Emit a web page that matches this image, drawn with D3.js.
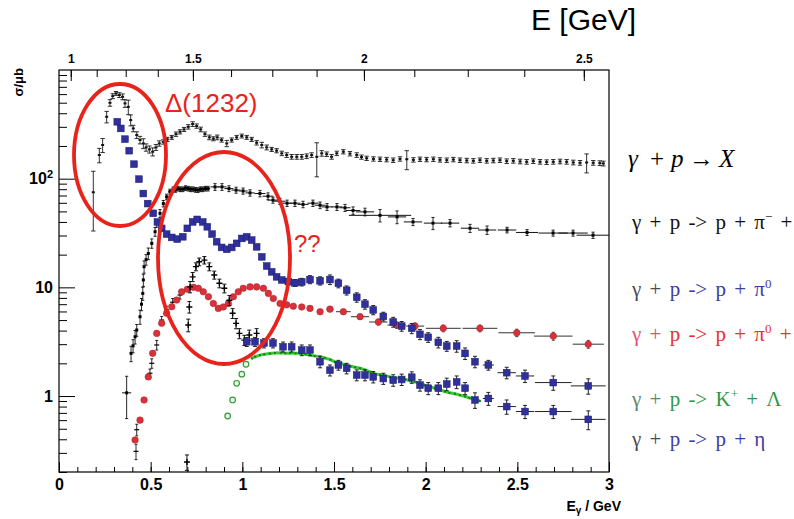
<!DOCTYPE html>
<html>
<head>
<meta charset="utf-8">
<script src="https://cdn.jsdelivr.net/npm/d3@7/dist/d3.min.js"></script>
<style>
  html,body{margin:0;padding:0;background:#fff;}
  svg{display:block;}
  .tick text{font-family:"Liberation Sans",Arial,Helvetica,sans-serif;font-weight:bold;fill:#000;}
</style>
</head>
<body>
<svg id="chart" width="794" height="519"></svg>
<script>
// ---------------- data (E_gamma in GeV, sigma in microbarn) ----------------
// total photoabsorption  [E, sigma, error]
const totalXS = [
  [0.187,75,42],[0.220,165,25],[0.238,204,30],[0.260,371,45],[0.278,499,35],[0.293,575,30],
  [0.311,609,25],[0.329,588,30],[0.347,567,35],[0.360,493,40],[0.378,458,70],[0.391,346,40],
  [0.405,290,20],[0.424,252,18],[0.442,227,18],[0.460,211,22],[0.475,194,15],[0.493,186,14],
  [0.511,177,15],[0.529,194,12],[0.547,211,12],[0.569,218,10],[0.591,230,10],[0.615,240,10],
  [0.638,257,12],[0.660,270,12],[0.682,284,12],[0.705,300,14],[0.729,318,16],[0.751,305,14],
  [0.773,284,14],[0.796,257,12],[0.820,240,12],[0.842,233,10],[0.863,240,12],[0.887,227,10],
  [0.915,211,14],[0.942,227,10],[0.969,240,10],[0.997,247,10],[1.024,240,10],[1.051,230,10],
  [1.078,214,10],[1.106,204,12],[1.133,194,10],[1.160,186,8],[1.187,181,8],[1.215,171,8],
  [1.242,165,8],[1.269,159,8],[1.297,159,8],[1.324,159,8],[1.351,161,8],[1.378,165,8],
  [1.406,159,55],[1.433,171,10],[1.460,168,8],[1.487,159,8],[1.515,171,8],[1.551,177,8],
  [1.587,170,8],[1.624,165,8],[1.650,158,7],[1.678,154,7],[1.715,152,7],[1.751,151,7],
  [1.787,150,7],[1.823,148,7],[1.860,152,7],[1.897,151,30],[1.933,149,7],[1.969,151,7],
  [2.005,150,7],[2.042,151,7],[2.078,149,7],[2.115,148,7],[2.151,150,7],[2.187,148,7],
  [2.224,147,7],[2.260,146,7],[2.296,148,7],[2.333,146,7],[2.369,147,7],[2.405,148,7],
  [2.442,145,7],[2.478,146,7],[2.515,144,7],[2.551,143,7],[2.587,145,7],[2.624,143,7],
  [2.660,142,7],[2.696,143,7],[2.733,144,7],[2.769,143,7],[2.805,141,7],[2.842,140,7],
  [2.878,141,28],[2.914,140,7],[2.950,139,7],[2.969,138,7]
];

// p pi- pi+   [E, sigma, bin half-width, error]
const pipiXS = [
  [0.369,1.07,0.025,0.45],[0.393,2.47,0.006,0.4],[0.404,2.9,0.006,0.4],[0.415,3.51,0.006,0.5],
  [0.424,4.05,0.006,0.5],[0.442,5.37,0.006,0.8],[0.450,7.0,0.006,0.9],[0.457,8.8,0.006,1.2],
  [0.460,11.7,0.006,1.5],[0.464,15.5,0.006,2.0],[0.475,18.0,0.006,2.0],[0.487,20.5,0.006,2.5],
  [0.506,25.4,0.006,2.5],[0.524,32.5,0.006,3],[0.533,38.8,0.006,3],[0.551,48,0.006,4],
  [0.569,59,0.006,4],[0.587,68,0.006,4],[0.605,76,0.008,4],
  [0.623,80,0.012,4],[0.636,79,0.012,4],[0.649,81,0.012,4],[0.662,80,0.012,4],[0.676,80,0.012,4],
  [0.690,82,0.012,4],[0.704,81,0.012,4],[0.717,80,0.012,4],[0.731,80,0.012,4],[0.745,79,0.012,4],
  [0.758,78.5,0.012,4],[0.772,80,0.012,4],[0.785,80,0.012,4],[0.799,81,0.012,4],[0.813,81,0.012,4],
  [0.851,84,0.025,6],[0.889,84,0.025,6],[0.927,81,0.025,5],[0.966,78.5,0.025,5],[1.004,77,0.025,5],
  [1.042,74,0.025,5],[1.096,73,0.03,5],[1.140,69,0.03,5],[1.167,63.5,0.03,4],[1.205,62,0.03,4],
  [1.244,59.5,0.03,4],[1.287,59.5,0.03,4],[1.331,58,0.03,4],[1.385,59.5,0.03,4],[1.424,57,0.03,4],
  [1.462,55,0.03,4],[1.516,55,0.03,4],[1.560,54,0.03,4],[1.604,51,0.04,4],[1.669,49.5,0.05,4],
  [1.751,46,0.17,6],[1.844,44.5,0.05,6],[1.931,40,0.05,3],[2.040,39,0.05,5],[2.133,39,0.05,3],
  [2.242,35,0.05,3],[2.335,33.7,0.05,3],[2.444,33.7,0.05,2],[2.553,32,0.06,2],[2.695,31.6,0.08,2],
  [2.804,31.6,0.08,2],[2.913,30.2,0.09,2]
];

// p pi0   [E, sigma, error, bin half-width]
const pi0XS = [
  [0.318,334,0,0],[0.337,290,0,0],[0.360,231,0,0],[0.383,181,0,0],[0.409,136,0,0],[0.436,99,0,0],
  [0.460,73,0,0],[0.484,59,0,0],[0.514,48,0,0],[0.537,40,0,0],[0.560,34.9,0,0],[0.587,30.9,0,0],
  [0.615,28.8,0,0],[0.645,27.8,0,0],[0.675,29.2,0,0],[0.700,34.9,0,0],[0.729,40,0,0],[0.754,42.2,0,0],
  [0.784,40,0,0],[0.809,36.1,0,0],[0.835,30.9,0,0],[0.860,26.3,0,0],[0.887,23.3,0,0],[0.915,22.4,0,0],
  [0.942,23.3,0,0],[0.969,25.4,0,0],[0.997,28.2,0,0],[1.024,29.2,0,0],[1.051,27.2,0,0],[1.078,23.6,0,0],
  [1.106,19.1,0,0],[1.133,15.7,0,0],[1.160,13.9,0,0],[1.187,12.5,0,0],[1.215,11.7,0,0],
  [1.251,11.3,0.8,0],[1.287,11.0,0.8,0],[1.324,11.2,0.9,0],[1.369,11.8,1.0,0],[1.424,11.5,1.0,0],
  [1.478,11.8,1.2,0],[1.524,10.9,1.0,0],[1.569,9.4,0.9,0],[1.624,8.1,0.8,0],[1.669,7.0,0.7,0],
  [1.714,6.2,0.6,0],[1.769,5.4,0.5,0],[1.823,4.8,0.5,0],[1.869,4.4,0.45,0],[1.924,4.2,0.45,0],
  [1.969,3.7,0.4,0],[2.014,3.47,0.35,0],[2.069,3.12,0.35,0],[2.115,2.88,0.3,0],[2.169,2.88,0.35,0],
  [2.215,2.47,0.3,0],[2.269,2.07,0.25,0],[2.342,1.93,0.2,0.03],[2.442,1.64,0.2,0.05],
  [2.542,1.53,0.2,0.05],[2.696,1.33,0.2,0.1],[2.887,1.24,0.2,0.095]
];

// p pi0 pi0   [E, sigma, error, bin half-width]
const pi0pi0XS = [
  [0.415,0.394,0,0],[0.442,0.60,0,0],[0.464,0.92,0,0],[0.487,1.50,0,0],[0.511,2.47,0,0],
  [0.533,3.77,0,0],[0.560,4.67,0,0],[0.587,5.77,0,0],[0.615,6.63,0,0],[0.642,7.64,0,0],
  [0.669,9.1,0,0],[0.700,9.6,0,0],[0.733,10.0,0,0],[0.760,9.8,0,0],[0.787,9.1,0,0],
  [0.815,8.2,0,0],[0.842,7.1,0,0],[0.869,6.4,0,0],[0.896,6.6,0,0],[0.924,7.1,0,0],
  [0.951,8.2,0,0],[0.978,9.1,0,0],[1.005,9.8,0,0],[1.042,10.1,0,0],[1.078,10.1,0,0],
  [1.115,9.8,0,0],[1.142,8.8,0,0],[1.169,7.9,0,0],[1.206,7.1,0,0],[1.242,6.9,0,0],
  [1.278,6.7,0,0],[1.324,6.6,0,0],[1.369,6.4,0,0],[1.424,5.97,0,0],[1.478,6.3,0,0.02],
  [1.551,5.97,0.3,0.04],[1.642,5.37,0.3,0.05],[1.742,4.8,0.3,0.05],[1.842,4.5,0.3,0.05],
  [1.942,4.4,0.3,0.05],[2.096,4.2,0.3,0.095],[2.296,4.2,0.3,0.095],[2.497,3.82,0.3,0.1],
  [2.696,3.56,0.3,0.105],[2.887,3.0,0.25,0.085]
];

// p pi0 pi0, second data set  [E, sigma, error]
const pi0pi0Other = [
  [0.420,0.31,0.05],[0.424,0.49,0.06],[0.496,1.62,0.15],[0.506,2.0,0.2],[0.533,2.95,0.3],
  [0.560,5.0,0.4],[0.587,6.2,0.5],[0.620,7.3,0.6],[0.660,8.5,0.7]
];

// p eta near threshold  [E, sigma, error]
const etaLowXS = [
  [0.698,0.247,0.04],[0.705,4.5,0.6],[0.711,6.6,0.8],[0.715,10.1,1.2],[0.729,12.5,1.2],
  [0.747,15.5,1.3],[0.765,17.2,1.4],[0.793,17.8,1.4],[0.820,15.5,1.3],[0.847,13.0,1.1],
  [0.875,10.9,1.0],[0.902,9.8,0.9],[0.929,7.6,0.8],[0.947,5.77,0.6],[0.966,4.66,0.5],
  [0.984,3.77,0.4],[1.011,3.27,0.35],[1.038,3.64,0.4],[1.078,3.77,0.4]
];

// p eta  [E, sigma, error, bin half-width]
const etaXS = [
  [1.024,3.16,0.3,0],[1.069,3.16,0.3,0],[1.118,3.07,0.3,0],[1.167,3.07,0.3,0],[1.222,2.84,0.3,0],
  [1.269,2.84,0.3,0],[1.324,2.65,0.3,0],[1.369,2.65,0.3,0],[1.424,2.07,0.25,0],[1.478,1.73,0.2,0],
  [1.524,1.93,0.2,0],[1.569,1.80,0.2,0],[1.624,1.56,0.18,0],[1.669,1.56,0.18,0],[1.714,1.50,0.18,0],
  [1.769,1.45,0.17,0],[1.823,1.40,0.17,0],[1.869,1.42,0.17,0],[1.924,1.49,0.18,0],[1.969,1.26,0.15,0],
  [2.014,1.18,0.15,0],[2.069,1.18,0.15,0],[2.115,1.29,0.17,0],[2.169,1.35,0.18,0],[2.215,1.18,0.15,0],
  [2.269,0.92,0.15,0],[2.342,0.95,0.13,0.03],[2.442,0.80,0.12,0.05],[2.542,0.72,0.1,0.05],
  [2.696,0.72,0.1,0.1],[2.887,0.61,0.12,0.095]
];

// K+ Lambda: threshold points and measured band  [E, sigma]
const kLambdaThr = [[0.920,0.655],[0.947,0.92],[0.969,1.31],[0.997,1.59],[1.020,1.96]];
const kLambdaXS = [
  [1.051,2.22],[1.070,2.30],[1.096,2.38],[1.120,2.42],[1.150,2.46],[1.178,2.49],[1.210,2.50],
  [1.235,2.48],[1.260,2.49],[1.290,2.47],[1.315,2.47],[1.345,2.42],[1.370,2.38],[1.395,2.34],
  [1.424,2.30],[1.450,2.24],[1.480,2.16],[1.505,2.06],[1.533,2.00],[1.560,1.94],[1.590,1.88],
  [1.615,1.84],[1.642,1.80],[1.670,1.74],[1.700,1.66],[1.725,1.60],[1.751,1.57],[1.780,1.54],
  [1.805,1.50],[1.835,1.47],[1.860,1.45],[1.890,1.42],[1.915,1.38],[1.940,1.35],[1.969,1.31],
  [1.995,1.26],[2.020,1.22],[2.050,1.18],[2.078,1.14],[2.105,1.10],[2.130,1.07],[2.160,1.05],
  [2.187,1.02],[2.215,0.99],[2.240,0.96],[2.260,0.94],[2.296,0.90]
];

// axis ticks and labels
const xTicks = [0, 0.5, 1, 1.5, 2, 2.5, 3];
const yTicks = [1, 10, 100];
const yTickLabels = ["1", "10", "10^2"];
const wTicks = [1, 1.5, 2, 2.5];
const wTickLabels = ["1", "1.5", "2", "2.5"];

// reaction labels
const legendLabels = [
  "γ + p → X",
  "γ + p -> p + π^− +",
  "γ + p -> p + π^0",
  "γ + p -> p + π^0 +",
  "γ + p -> K^+ + Λ",
  "γ + p -> p + η"
];

// ---------------- layout ----------------
const width = 794, height = 519;
const frame = {left: 59, right: 609, top: 70, bottom: 472};
const x = d3.scaleLinear().domain([0, 3]).range([frame.left, frame.right]);
const y = d3.scaleLog().domain([0.2, 1000]).range([frame.bottom, frame.top]);

// photon energy for a given centre-of-mass energy W on a proton target
const MP = 0.938;
const egFromW = w => (w * w - MP * MP) / (2 * MP);

const BLUE = "#30309c", RED = "#d8313a", GREEN = "#36cc36", ANNOT = "#e8231c";
const SANS = '"Liberation Sans", Arial, Helvetica, sans-serif';
const SERIF = '"Liberation Serif", "Times New Roman", serif';

const svg = d3.select("#chart");
svg.append("rect").attr("width", width).attr("height", height).attr("fill", "#fff");

svg.append("defs").append("clipPath").attr("id", "plotClip").append("rect")
  .attr("x", frame.left).attr("y", frame.top)
  .attr("width", frame.right - frame.left).attr("height", frame.bottom - frame.top);

// ---------------- axes ----------------
function cleanAxis(g) {
  g.select(".domain").remove();
  g.selectAll(".tick line").attr("stroke", "#000").attr("stroke-width", 1);
}

// bottom: photon energy
svg.append("g").attr("transform", `translate(0,${frame.bottom})`)
  .call(d3.axisBottom(x).tickValues(d3.range(0, 31).map(i => i / 10)).tickSize(-5).tickFormat(""))
  .call(cleanAxis);
svg.append("g").attr("transform", `translate(0,${frame.bottom})`)
  .call(d3.axisBottom(x).tickValues(xTicks).tickSize(-10).tickPadding(7).tickFormat(d3.format("")))
  .call(cleanAxis)
  .selectAll("text").attr("font-size", 16);

// left: cross section (log)
const yMinor = [];
[0.1, 1, 10, 100].forEach(dec => {
  for (let k = 2; k <= 9; k++) { const v = dec * k; if (v >= 0.2 && v <= 1000) yMinor.push(v); }
});
svg.append("g").attr("transform", `translate(${frame.left},0)`)
  .call(d3.axisLeft(y).tickValues(yMinor).tickSize(-8).tickFormat(""))
  .call(cleanAxis);
const gy = svg.append("g").attr("transform", `translate(${frame.left},0)`)
  .call(d3.axisLeft(y).tickValues(yTicks).tickSize(-16).tickPadding(6).tickFormat(""))
  .call(cleanAxis);
gy.selectAll(".tick text").attr("font-size", 16).each(function(d, i) {
  const [base, exp] = yTickLabels[i].split("^");
  const t = d3.select(this);
  t.append("tspan").text(base);
  if (exp) t.append("tspan").attr("font-size", 11).attr("dy", "-0.55em").text(exp);
});

// top: centre-of-mass energy
const wMinor = d3.range(0, 13).map(i => 1 + i * 0.125);
svg.append("g").attr("transform", `translate(0,${frame.top})`)
  .call(d3.axisTop(x).tickValues(wMinor.map(egFromW)).tickSize(-7).tickFormat(""))
  .call(cleanAxis);
svg.append("g").attr("transform", `translate(0,${frame.top})`)
  .call(d3.axisTop(x).tickValues(wTicks.map(egFromW)).tickSize(-11).tickPadding(7)
    .tickFormat((d, i) => wTickLabels[i]))
  .call(cleanAxis)
  .selectAll("text").attr("font-size", 12);

// frame
svg.append("rect").attr("x", frame.left).attr("y", frame.top)
  .attr("width", frame.right - frame.left).attr("height", frame.bottom - frame.top)
  .attr("fill", "none").attr("stroke", "#000").attr("stroke-width", 1.2);

// axis titles
svg.append("text").attr("x", 531).attr("y", 30).attr("font-family", SANS)
  .attr("font-size", 30).text("E [GeV]");
const xt = svg.append("text").attr("x", 621).attr("y", 511).attr("text-anchor", "end")
  .attr("font-family", SANS).attr("font-weight", "bold").attr("font-size", 14);
xt.append("tspan").text("E");
xt.append("tspan").attr("font-size", 10).attr("dy", 3).text("γ");
xt.append("tspan").attr("dy", -3).text(" / GeV");
svg.append("text").attr("transform", "translate(23,68) rotate(-90)").attr("text-anchor", "end")
  .attr("font-family", SANS).attr("font-weight", "bold").attr("font-size", 13).text("σ/μb");

// ---------------- marks ----------------
const plot = svg.append("g").attr("clip-path", "url(#plotClip)");

function vErr(g, rows, color, cap, width) {
  const r = rows.filter(d => d.err > 0);
  g.append("g").attr("stroke", color).attr("stroke-width", width)
    .selectAll("path").data(r).join("path")
    .attr("fill", "none")
    .attr("d", d => {
      const cx = x(d.e), y0 = y(d.s - d.err), y1 = y(d.s + d.err);
      return `M${cx},${y0}V${y1}M${cx - cap},${y0}H${cx + cap}M${cx - cap},${y1}H${cx + cap}`;
    });
}
function hBins(g, rows, color, width) {
  g.append("g").attr("stroke", color).attr("stroke-width", width)
    .selectAll("line").data(rows.filter(d => d.hw > 0)).join("line")
    .attr("x1", d => x(d.e - d.hw)).attr("x2", d => x(d.e + d.hw))
    .attr("y1", d => y(d.s)).attr("y2", d => y(d.s));
}

// total photoabsorption
const tot = totalXS.map(([e, s, err]) => ({e, s, err}));
const gTot = plot.append("g");
vErr(gTot, tot, "#1a1a1a", 2.2, 0.9);
gTot.selectAll("rect").data(tot).join("rect")
  .attr("x", d => x(d.e) - 1.5).attr("y", d => y(d.s) - 1).attr("width", 3).attr("height", 2)
  .attr("fill", "#111");

// p pi- pi+
const pp = pipiXS.map(([e, s, hw, err]) => ({e, s, hw, err}));
const gPP = plot.append("g");
hBins(gPP, pp, "#111", 1);
vErr(gPP, pp, "#111", 1.6, 0.9);
gPP.selectAll("rect").data(pp).join("rect")
  .attr("x", d => x(d.e) - 1.5).attr("y", d => y(d.s) - 1.5).attr("width", 3).attr("height", 3)
  .attr("fill", "#000");

// K+ Lambda
const gK = plot.append("g");
gK.append("path").datum(kLambdaXS)
  .attr("d", d3.line().x(d => x(d[0])).y(d => y(d[1])))
  .attr("fill", "none").attr("stroke", GREEN).attr("stroke-width", 3);
gK.selectAll("rect").data(kLambdaXS).join("rect")
  .attr("x", d => x(d[0]) - 1).attr("y", d => y(d[1]) - 1).attr("width", 2).attr("height", 2)
  .attr("fill", "#1f7a1f");
gK.selectAll("circle").data(kLambdaThr).join("circle")
  .attr("cx", d => x(d[0])).attr("cy", d => y(d[1])).attr("r", 2.8)
  .attr("fill", "#e8f8e8").attr("stroke", "#3a9a3a").attr("stroke-width", 1.2);

// p pi0 pi0
const p00 = pi0pi0XS.map(([e, s, err, hw]) => ({e, s, err, hw}));
const g00 = plot.append("g");
hBins(g00, p00, "#333", 1);
vErr(g00, p00, "#333", 1.5, 0.9);
const p00b = pi0pi0Other.map(([e, s, err]) => ({e, s, err}));
vErr(g00, p00b, "#111", 1.5, 0.9);
g00.append("g").selectAll("path").data(p00b).join("path")
  .attr("d", d => `M${x(d.e) - 2.5},${y(d.s)}H${x(d.e) + 2.5}`)
  .attr("stroke", "#000").attr("stroke-width", 1.2);
g00.append("g").selectAll("circle").data(p00).join("circle")
  .attr("cx", d => x(d.e)).attr("cy", d => y(d.s)).attr("r", 3.3)
  .attr("fill", RED).attr("stroke", "#a8242c").attr("stroke-width", 0.5);

// p eta near threshold (crosses)
const etL = etaLowXS.map(([e, s, err]) => ({e, s, err}));
const gEtL = plot.append("g");
vErr(gEtL, etL, "#111", 2, 1);
gEtL.selectAll("path.cross").data(etL).join("path").attr("class", "cross")
  .attr("d", d => `M${x(d.e) - 3},${y(d.s)}H${x(d.e) + 3}M${x(d.e)},${y(d.s) - 3}V${y(d.s) + 3}`)
  .attr("stroke", "#000").attr("stroke-width", 1.4);

// p pi0 (squares)
const p0 = pi0XS.map(([e, s, err, hw]) => ({e, s, err, hw}));
const gP0 = plot.append("g");
hBins(gP0, p0, "#222", 1);
vErr(gP0, p0, "#222", 2, 1);
gP0.append("g").selectAll("rect").data(p0).join("rect")
  .attr("x", d => x(d.e) - 3.4).attr("y", d => y(d.s) - 3.4).attr("width", 6.8).attr("height", 6.8)
  .attr("fill", BLUE).attr("stroke", "#1c1c6a").attr("stroke-width", 0.5);

// p eta (squares)
const et = etaXS.map(([e, s, err, hw]) => ({e, s, err, hw}));
const gEt = plot.append("g");
hBins(gEt, et, "#222", 1);
vErr(gEt, et, "#222", 2, 1);
gEt.append("g").selectAll("rect").data(et).join("rect")
  .attr("x", d => x(d.e) - 3.4).attr("y", d => y(d.s) - 3.4).attr("width", 6.8).attr("height", 6.8)
  .attr("fill", BLUE).attr("stroke", "#1c1c6a").attr("stroke-width", 0.5);

// ---------------- annotations ----------------
svg.append("ellipse").attr("cx", 120).attr("cy", 155).attr("rx", 46).attr("ry", 71)
  .attr("fill", "none").attr("stroke", ANNOT).attr("stroke-width", 3.8);
svg.append("ellipse").attr("cx", 224).attr("cy", 258).attr("rx", 66).attr("ry", 106)
  .attr("fill", "none").attr("stroke", ANNOT).attr("stroke-width", 3.8);
svg.append("text").attr("x", 165).attr("y", 112).attr("font-family", SANS).attr("font-size", 26)
  .attr("fill", ANNOT).text("Δ(1232)");
svg.append("text").attr("x", 294).attr("y", 252).attr("font-family", SANS).attr("font-size", 24)
  .attr("fill", ANNOT).text("??");

// ---------------- reaction labels ----------------
// first label: italic particle symbols, math-style spacing
const l0 = svg.append("text").attr("y", 167).attr("font-family", SERIF).attr("font-size", 25);
const l0x = [628, 650, 671, 689, 719];
legendLabels[0].split(" ").forEach((tok, i) => {
  l0.append("tspan").attr("x", l0x[i]).attr("font-style", /[+→]/.test(tok) ? "normal" : "italic").text(tok);
});

const rowBase = [229, 296, 341, 406, 446];
const rowMain = ["#111", "#3d3da0", "#e8312c", "#2d9a46", "#3d3da0"];
const rowGamma = ["#111", "#4a4a5a", "#e2506c", "#5a8a6a", "#4a4a5a"];
legendLabels.slice(1).forEach((lab, i) => {
  const t = svg.append("text").attr("x", 632).attr("y", rowBase[i])
    .attr("font-family", SERIF).attr("font-size", 21)
    .style("white-space", "pre").style("word-spacing", "3px");
  const toks = lab.split(" ");
  toks.forEach((tok, k) => {
    const col = k < 2 ? rowGamma[i] : rowMain[i];
    const sp = k < toks.length - 1 ? " " : "";
    if (tok.includes("^")) {
      const [b, s] = tok.split("^");
      t.append("tspan").attr("fill", col).text(b);
      t.append("tspan").attr("fill", col).attr("font-size", 13).attr("dy", -8).text(s);
      t.append("tspan").attr("fill", col).attr("dy", 8).text(sp);
    } else {
      t.append("tspan").attr("fill", col).text(tok + sp);
    }
  });
});
</script>
</body>
</html>
